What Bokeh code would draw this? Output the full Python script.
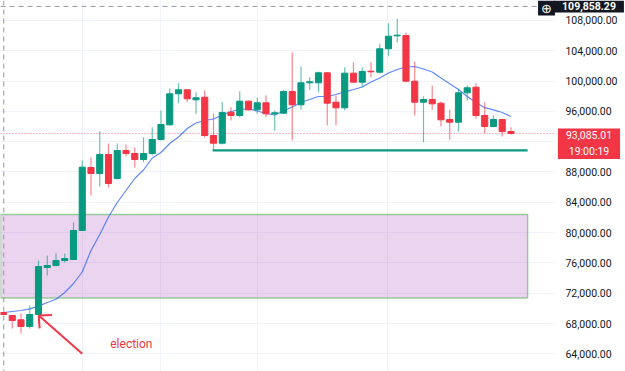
from bokeh.plotting import figure
from bokeh.models import (ColumnDataSource, FixedTicker, NumeralTickFormatter,
                          Range1d, Label, Span, BoxAnnotation)
from bokeh.embed import file_html
from bokeh.resources import INLINE

# ---------------- data (daily BTC/USD candles) ----------------
opens = [69450, 69056, 68488, 67604, 69188, 75392, 75656, 76316, 76448, 80276,
         88592, 87800, 90308, 87140, 90836, 90440, 89648, 90440, 92288, 94228,
         98320, 98848, 97528, 97872, 92816, 91800, 95892, 95456, 97344, 96208,
         97132, 95680, 95760, 98624, 96868, 99772, 99772, 101092, 97212, 96472,
         101040, 99852, 101304, 101172, 104260, 105976, 106016, 99984, 97212, 97568,
         97080, 94928, 94572, 98452, 99192, 95456, 94004, 94928, 93344]
highs = [69600, 69100, 69320, 70376, 76316, 76976, 77240, 77240, 81332, 89516,
         89912, 93344, 91760, 91760, 91628, 91232, 92592, 93912, 96116, 99020,
         99720, 98954, 98532, 98756, 95720, 97212, 96552, 98664, 97436, 97792,
         98096, 96116, 98848, 103812, 101924, 100512, 101264, 101172, 98096, 101832,
         102492, 101832, 102492, 104920, 107640, 108220, 106372, 102584, 98004, 99416,
         97304, 96248, 98980, 99416, 99720, 97212, 95456, 95020, 93912]
lows = [69100, 67340, 66680, 67340, 69056, 74336, 75524, 76052, 76382, 80210,
        84896, 86084, 85952, 87008, 90044, 88592, 89292, 90176, 92156, 94136,
        97080, 97212, 95680, 92552, 90928, 91628, 94796, 95232, 96116, 95680,
        95232, 93476, 95680, 92156, 96248, 98848, 98532, 94136, 94136, 96116,
        99812, 99192, 100512, 100960, 103284, 105092, 99852, 95456, 91932, 96208,
        94004, 92248, 93344, 97436, 95020, 93120, 93912, 92684, 92908]
closes = [69190, 68396, 67604, 69188, 75524, 75656, 76316, 76580, 80276, 88632,
          87800, 90308, 86480, 90836, 90440, 89648, 90440, 92288, 94268, 98320,
          98848, 97660, 97792, 92816, 91800, 95852, 95456, 97344, 96208, 97132,
          95680, 95812, 98624, 96868, 99772, 99904, 101092, 97080, 96472, 101040,
          99852, 101264, 101224, 104260, 105924, 106056, 99984, 97212, 97568, 97000,
          94888, 94572, 98452, 99112, 95456, 94004, 94928, 93344, 93085.01]
moving_avg = [69452, 69584, 69716, 69927, 70297, 70772, 71194, 72092, 73280, 74798,
              77636, 79748, 82058, 83972, 85556, 87140, 88262, 89846, 90572, 91760,
              92618, 93740, 94466, 94796, 94994, 95522, 95984, 96248, 96314, 96050,
              95720, 95522, 96050, 96578, 97172, 97568, 97964, 97964, 98228, 98584,
              98888, 99218, 99878, 100406, 101066, 101528, 101858, 101924, 101594, 101198,
              100406, 99640, 98888, 97964, 97172, 96486, 96208, 95852, 95324]

price_ticks = [64000, 68000, 72000, 76000, 80000, 84000, 88000, 92000,
               96000, 100000, 104000, 108000]
date_grid = [9, 18, 29, 43.9]

zone_top = 82400
zone_bottom = 71350
zone_end = 59.9
support_level = 90840
support_start = 23.9
last_price = 93085.01
last_time = "19:00:19"
cross_price = 109858.29
cross_index = 0.03
election_index = 4
arrow_tail = (9.0, 64000)
election_label_pos = (12.2, 65360)

X_START, X_END = -0.343, 71.09     # whole canvas width
AXIS_X = 63.086                    # where the price scale begins
CROSS_END = 61.03                  # crosshair line stops at the (+) button

GREEN = "#089981"
RED = "#f23645"

n = len(opens)
idx = list(range(n))
colors = [GREEN if c >= o else RED for o, c in zip(opens, closes)]
src = ColumnDataSource(dict(
    x=idx, open=opens, high=highs, low=lows, close=closes,
    top=[max(o, c) for o, c in zip(opens, closes)],
    bottom=[min(o, c) for o, c in zip(opens, closes)],
    color=colors,
))

p = figure(width=625, height=371, output_backend="svg", toolbar_location=None,
           x_range=Range1d(X_START, X_END), y_range=Range1d(61664, 110636),
           y_axis_location="right", x_axis_location=None,
           min_border_left=0, min_border_top=0, min_border_bottom=0,
           min_border_right=0)
p.background_fill_color = "white"
p.border_fill_color = "white"
p.outline_line_color = None

# axes & grids
yt = FixedTicker(ticks=price_ticks)
p.yaxis.ticker = yt
p.ygrid.ticker = yt
p.yaxis.fixed_location = AXIS_X
p.yaxis.formatter = NumeralTickFormatter(format="0,0.00")
p.yaxis.axis_line_color = None
p.yaxis.major_tick_line_color = None
p.yaxis.minor_tick_line_color = None
p.yaxis.major_tick_out = 0
p.yaxis.major_tick_in = 0
p.yaxis.major_label_standoff = 10
p.yaxis.major_label_text_font = "Roboto"
p.yaxis.major_label_text_font_size = "10.5px"
p.yaxis.major_label_text_color = "#131722"
p.xgrid.ticker = FixedTicker(ticks=date_grid)
p.xgrid.grid_line_color = "#f0f3fa"
p.ygrid.grid_line_color = "#f0f3fa"

# price-scale background (hides grid behind the scale)
p.add_layout(BoxAnnotation(left=AXIS_X, fill_color="white", fill_alpha=1,
                           line_color=None, level="glyph"))

# purple zone
p.add_layout(BoxAnnotation(top=zone_top, bottom=zone_bottom, right=zone_end,
                           fill_color="#9c27b0", fill_alpha=0.2,
                           line_color="#4caf50", line_alpha=0.55, line_width=1.5,
                           level="underlay"))

# crosshair
p.segment(x0=[X_START], y0=[cross_price], x1=[CROSS_END], y1=[cross_price],
          line_color="#9598a1", line_dash="5 4", line_width=1)
p.add_layout(Span(location=cross_index, dimension="height", line_color="#9598a1",
                  line_dash="5 4", line_width=1))

# current price line
p.segment(x0=[X_START], y0=[last_price], x1=[AXIS_X], y1=[last_price],
          line_color=RED, line_alpha=0.7, line_dash="1 2", line_width=1)

# support line
p.segment(x0=[support_start], y0=[support_level], x1=[zone_end], y1=[support_level],
          line_color=GREEN, line_width=2.2)

# moving average
p.line(idx, moving_avg, line_color="#2962ff", line_width=1.2, line_alpha=0.75)

# candles
p.segment(x0="x", y0="high", x1="x", y1="low", source=src,
          line_color="color", line_width=1.2, line_alpha=0.6)
p.vbar(x="x", top="top", bottom="bottom", width=0.7, source=src,
       fill_color="color", line_color="color", line_width=1)

# election arrow
tip_x, tip_y = election_index + 0.03, lows[election_index]
p.segment(x0=[arrow_tail[0], tip_x, tip_x], y0=[arrow_tail[1], tip_y, tip_y],
          x1=[tip_x, tip_x + 1.5, tip_x + 0.1], y1=[tip_y, tip_y + 80, tip_y - 1700],
          line_color=RED, line_width=2)
p.add_layout(Label(x=election_label_pos[0], y=election_label_pos[1], text="election",
                   text_color=RED, text_font="Roboto", text_font_size="12px",
                   text_baseline="middle", text_align="left"))

# price-scale badges  (padding tuple = (horizontal, vertical))
p.add_layout(Label(x=588.5, y=last_price, x_units="screen", y_units="data",
                   text=f"{last_price:,.2f}\n{last_time}", text_color="white",
                   text_font="Roboto", text_font_size="10.5px", text_line_height=1.2,
                   text_align="center", text_baseline="top", y_offset=5,
                   background_fill_color=RED, padding=(8, 1)))
p.add_layout(Label(x=588.5, y=cross_price, x_units="screen", y_units="data",
                   text=f"{cross_price:,.2f}", text_color="white",
                   text_font="Roboto", text_font_size="10.5px", text_font_style="bold",
                   text_align="center", text_baseline="middle",
                   background_fill_color="#131722", padding=(8, 2)))
p.add_layout(Label(x=546, y=363.5, x_units="screen", y_units="screen",
                   text="\u2295", text_color="white",
                   text_font="DejaVu Sans", text_font_size="13px",
                   text_align="center", text_baseline="middle",
                   background_fill_color="#131722", padding=(3, 0)))

open("out.html", "w").write(file_html(p, INLINE))
